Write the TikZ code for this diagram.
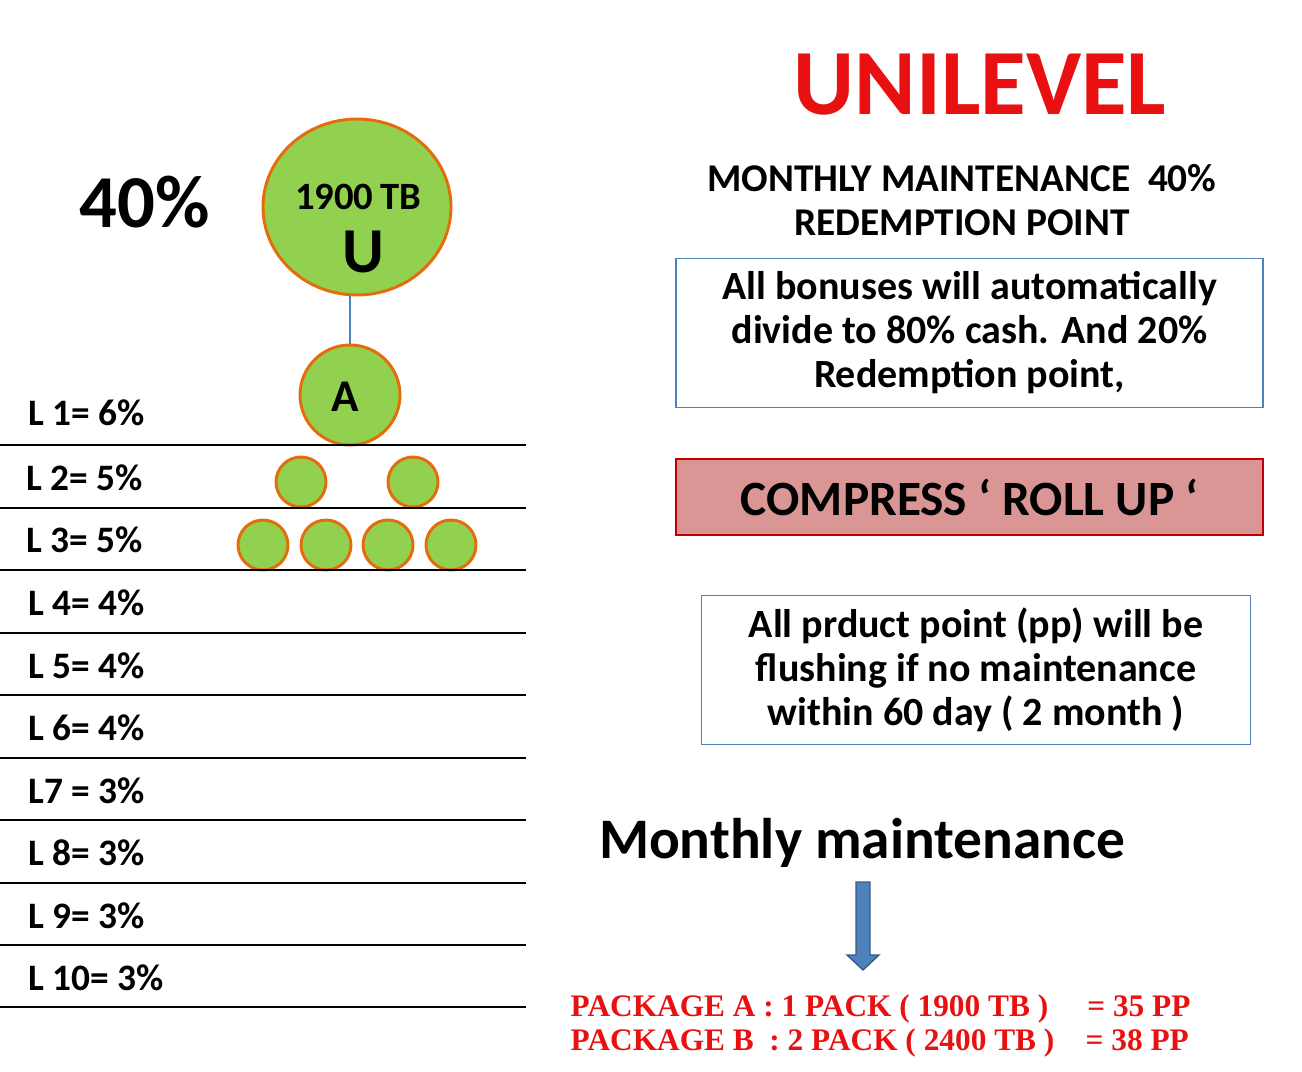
\documentclass[tikz,border=0pt]{standalone}
\usepackage{fontspec}
\setmainfont{Carlito}
\newfontfamily\serifb{Liberation Serif}
\usetikzlibrary{shapes.geometric}
\definecolor{gr}{HTML}{92D050}
\definecolor{org}{HTML}{E46C0A}
\definecolor{bl}{HTML}{4F81BD}
\definecolor{rd}{HTML}{E81010}
\definecolor{pk}{HTML}{D99694}
\definecolor{dr}{HTML}{C00000}
\begin{document}
\begin{tikzpicture}[x=0.75pt,y=-0.75pt,
  ball/.style={circle,draw=org,fill=gr,line width=2.2pt,inner sep=0pt},
  lvl/.style={anchor=west,font=\fontsize{28}{30}\selectfont\bfseries},
  box/.style={draw=bl,line width=1.2pt,align=center,font=\fontsize{30}{33}\selectfont\bfseries},
  hl/.style={line width=0.9pt}]
\useasboundingbox (0,0) rectangle (1302,1071);
\node[font=\fontsize{56}{60}\selectfont\bfseries] (p40) at (145,202) {40\%};
\node[ball,ellipse,minimum width=141,minimum height=132] (u) at (357,207) {};
\node[font=\fontsize{29}{30}\selectfont\bfseries] (tb) at (358,197) {1900\,TB};
\node[font=\fontsize{48}{50}\selectfont\bfseries] (ul) at (363,252) {U};
\node[ball,minimum size=75] (a) at (350,395) {};
\node[font=\fontsize{34}{36}\selectfont\bfseries] (al) at (345,397) {A};
\draw[bl,line width=0.8pt] (a.north) -- (a.north |- u.south);
\foreach \x/\n in {301/b1,413/b2}{\node[ball,minimum size=37.5] (\n) at (\x,482) {};}
\foreach \x/\n in {263/c1,326/c2,388/c3,451/c4}{\node[ball,minimum size=37.5] (\n) at (\x,545) {};}
\foreach \y in {445,508,570,633,695,758,820,883,945,1007}{\draw[hl] (0,\y) -- (526,\y);}
\node[lvl] (l1) at (24,413) {L 1= 6\%};
\node[lvl] (l2) at (22,478) {L 2= 5\%};
\node[lvl] (l3) at (22,540) {L 3= 5\%};
\node[lvl] (l4) at (24,603) {L 4= 4\%};
\node[lvl] (l5) at (24,666) {L 5= 4\%};
\node[lvl] (l6) at (24,728) {L 6= 4\%};
\node[lvl] (l7) at (24,791) {L7 = 3\%};
\node[lvl] (l8) at (24,853) {L 8= 3\%};
\node[lvl] (l9) at (24,916) {L 9= 3\%};
\node[lvl] (l10) at (24,978) {L 10= 3\%};
\node[text=rd,font=\fontsize{70}{72}\selectfont\bfseries] (title) at (980,85) {UNILEVEL};
\node[font=\fontsize{29.5}{33}\selectfont\bfseries,align=center] (mm) at (962,200) {MONTHLY MAINTENANCE~~40\%\\REDEMPTION POINT};
\node[box,minimum width=440,minimum height=112] (b1) at (969.5,333) {All bonuses will automatically\\ divide to 80\% cash. And 20\%\\ Redemption point,};
\node[draw=dr,fill=pk,line width=1.2pt,minimum width=440,minimum height=57,font=\fontsize{37}{40}\selectfont\bfseries] (cmp) at (969.5,497) {COMPRESS ‘ ROLL UP ‘};
\node[box,minimum width=412,minimum height=112] (b2) at (976,670) {All prduct point (pp) will be\\ flushing if no maintenance\\ within 60 day ( 2 month )};
\node[font=\fontsize{43}{46}\selectfont\bfseries] (mon) at (862,843) {Monthly maintenance};
\coordinate (at) at (863,882);
\fill[bl,draw=bl!70!black,line width=1pt] (856,882) -- (870,882) -- (870,955) -- (879,955) -- (863,970) -- (847,955) -- (856,955) -- cycle;
\node[text=rd,font=\serifb\fontsize{23.5}{26}\selectfont\bfseries,align=left,anchor=west] (pk) at (566,1026) {PACKAGE A : 1 PACK ( 1900 TB )~~~~ = 35 PP\\ PACKAGE B~~: 2 PACK ( 2400 TB )~~~ = 38 PP};
\end{tikzpicture}
\end{document}
